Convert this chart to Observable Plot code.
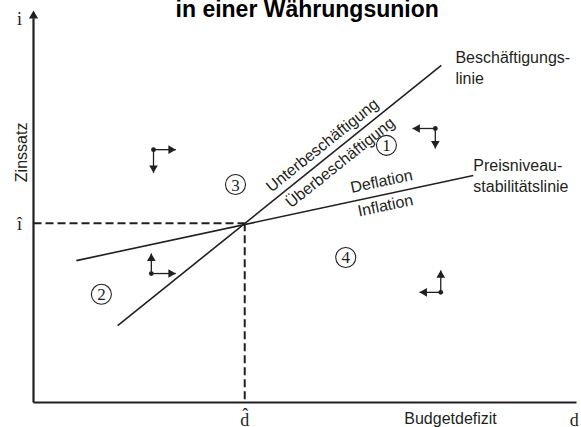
<!DOCTYPE html>
<html><head><meta charset="utf-8">
<script src="https://cdn.jsdelivr.net/npm/d3@7"></script>
<script src="https://cdn.jsdelivr.net/npm/@observablehq/plot@0.6"></script>
<style>body{margin:0;background:#fff}#chart svg{display:block}</style>
</head><body><div id="chart"></div>
<script>
// Equilibrium point
const dHat = 38.9, iHat = 45.7;
// Beschäftigungslinie endpoints
const employX = [15.5, 75.1];
const employY = [19.6, 86.0];
// Preisniveaustabilitätslinie endpoints
const priceX = [7.9, 81.0];
const priceY = [36.2, 57.9];
// Direction glyphs (origin, horizontal arrow tip x, vertical arrow tip y)
const glyphX = [22.1, 74.0, 21.7, 75.0];
const glyphY = [64.5, 69.9, 32.9, 28.1];
const hTipX = [26.2, 69.8, 26.2, 71.1];
const vTipY = [58.6, 64.8, 38.0, 33.7];
// Zone numbers
const zoneLabels = ["1", "2", "3", "4"];
const zoneX = [65.0, 12.5, 37.2, 57.5];
const zoneY = [65.6, 27.6, 55.6, 37.0];
// Regime labels along the lines
const regimeLabels = ["Unterbeschäftigung", "Überbeschäftigung", "Deflation", "Inflation"];
const regimeX = [53.2, 56.5, 64.1, 64.8];
const regimeY = [65.6, 61.2, 56.4, 50.2];
const regimeAngle = [-38.7, -38.7, -12, -12];
// Line names
const lineNames = ["Beschäftigungs-\nlinie", "Preisniveau-\nstabilitätslinie"];
const lineNameX = [77.7, 81.0];
const lineNameY = [85.6, 58.0];
// Axis texts
const title = "in einer Währungsunion";
const yName = "Zinssatz", xName = "Budgetdefizit";
const ySym = "i", xSym = "d", iHatSym = "î", dHatSym = "d\u0302";

const ink = "#231f20";
const sans = "Liberation Sans, Arial, sans-serif";
const serif = "Liberation Serif, Times New Roman, serif";

const glyphs = glyphX.map((x, k) => ({x, y: glyphY[k], hx: hTipX[k], vy: vTipY[k]}));
const zones = zoneLabels.map((t, k) => ({t, x: zoneX[k], y: zoneY[k]}));
const regimes = regimeLabels.map((t, k) => ({t, x: regimeX[k], y: regimeY[k], a: regimeAngle[k]}));
const names = lineNames.map((t, k) => ({t, x: lineNameX[k], y: lineNameY[k]}));
const lines = [
  {x1: employX[0], y1: employY[0], x2: employX[1], y2: employY[1]},
  {x1: priceX[0], y1: priceY[0], x2: priceX[1], y2: priceY[1]}
];

const chart = Plot.plot({
  width: 581, height: 427,
  marginLeft: 33, marginRight: 5, marginTop: 10, marginBottom: 25,
  x: {domain: [0, 100], axis: null},
  y: {domain: [0, 100], axis: null},
  style: {background: "#fff", overflow: "visible"},
  marks: [
    // dashed guides
    Plot.link([{x1: 0, y1: iHat, x2: dHat, y2: iHat}, {x1: dHat, y1: iHat, x2: dHat, y2: 0}],
      {x1: "x1", y1: "y1", x2: "x2", y2: "y2", stroke: ink, strokeWidth: 2, strokeDasharray: "8,4"}),
    // axes
    Plot.link([{x1: 0, y1: 0, x2: 100, y2: 0}, {x1: 0, y1: 0, x2: 0, y2: 98}],
      {x1: "x1", y1: "y1", x2: "x2", y2: "y2", stroke: ink, strokeWidth: 2.2}),
    Plot.dot([{x: 0, y: 100}], {x: "x", y: "y", symbol: "triangle", r: 3.4, fill: ink, dy: 5.3}),
    // the two lines
    Plot.link(lines, {x1: "x1", y1: "y1", x2: "x2", y2: "y2", stroke: ink, strokeWidth: 1.6}),
    // direction glyphs
    Plot.link(glyphs, {x1: "x", y1: "y", x2: "hx", y2: "y", stroke: ink, strokeWidth: 1.3}),
    Plot.link(glyphs, {x1: "x", y1: "y", x2: "x", y2: "vy", stroke: ink, strokeWidth: 1.3}),
    Plot.dot(glyphs, {x: "x", y: "y", r: 2.4, fill: ink}),
    Plot.dot(glyphs.filter(g => g.hx > g.x), {x: "hx", y: "y", symbol: "triangle", r: 3.2, fill: ink, rotate: 90, dx: -4.9}),
    Plot.dot(glyphs.filter(g => g.hx < g.x), {x: "hx", y: "y", symbol: "triangle", r: 3.2, fill: ink, rotate: -90, dx: 4.9}),
    Plot.dot(glyphs.filter(g => g.vy > g.y), {x: "x", y: "vy", symbol: "triangle", r: 3.2, fill: ink, rotate: 0, dy: 4.9}),
    Plot.dot(glyphs.filter(g => g.vy < g.y), {x: "x", y: "vy", symbol: "triangle", r: 3.2, fill: ink, rotate: 180, dy: -4.9}),
    // zone numbers
    Plot.dot(zones, {x: "x", y: "y", r: 10, stroke: ink, strokeWidth: 1.1, fill: "#fff"}),
    Plot.text(zones, {x: "x", y: "y", text: "t", fontSize: 17, fontFamily: serif, fill: ink, dy: 0.5}),
    // regime labels
    Plot.text(regimes, {x: "x", y: "y", text: "t", rotate: "a", fontSize: 16, fontFamily: sans, fill: ink}),
    // line names
    Plot.text(names, {x: "x", y: "y", text: "t", textAnchor: "start", lineHeight: 1.3, fontSize: 16, fontFamily: sans, fill: ink}),
    // axis names
    Plot.text([yName], {x: -2.1, y: 63.8, text: d => d, rotate: -90, fontSize: 16, fontFamily: sans, fill: ink}),
    Plot.text([xName], {x: 76.8, y: -5.5, text: d => d, lineAnchor: "bottom", fontSize: 16, fontFamily: sans, fill: ink}),
    Plot.text([ySym], {x: -2.6, y: 96.4, text: d => d, lineAnchor: "bottom", fontSize: 18, fontFamily: serif, fill: ink}),
    Plot.text([iHatSym], {x: -2.6, y: 44.1, text: d => d, lineAnchor: "bottom", fontSize: 18, fontFamily: serif, fill: ink}),
    Plot.text([dHatSym], {x: dHat, y: -5.9, text: d => d, lineAnchor: "bottom", fontSize: 18, fontFamily: serif, fill: ink}),
    Plot.text([xSym], {x: 99.6, y: -5.9, text: d => d, lineAnchor: "bottom", fontSize: 18, fontFamily: serif, fill: ink}),
    // title
    Plot.text([title], {x: 50.4, y: 98.3, text: d => d, lineAnchor: "bottom", fontSize: 23, fontWeight: "bold", fontFamily: sans, fill: "#000"})
  ]
});
document.getElementById("chart").appendChild(chart);
</script>
</body></html>
